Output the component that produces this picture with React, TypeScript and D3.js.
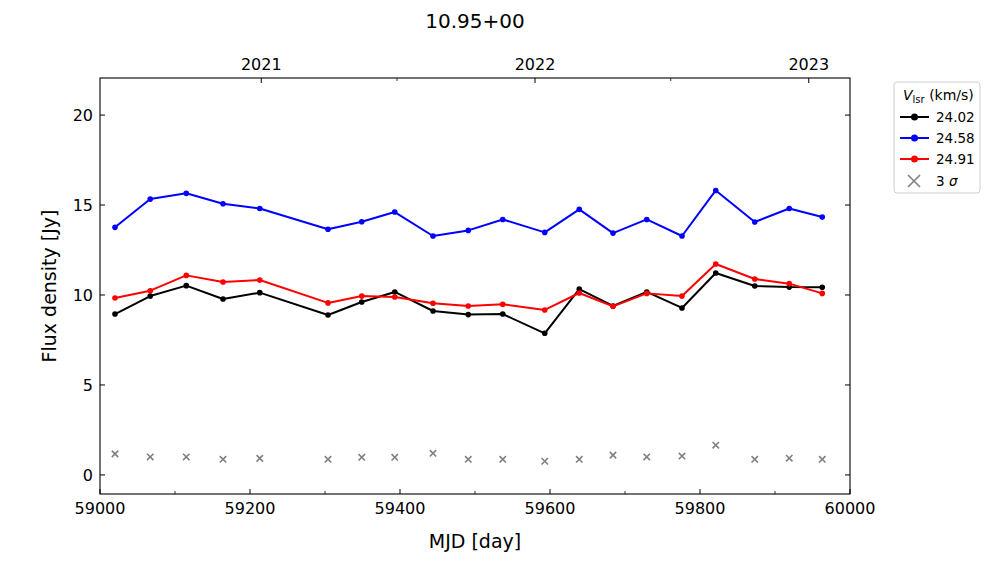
import React from "react";
import * as d3 from "d3";

const mjd = [59020, 59067, 59115, 59164, 59213, 59304, 59349, 59393, 59444, 59491, 59537, 59593, 59639, 59684, 59729, 59776, 59821, 59873, 59919, 59963];
const v2402 = [8.94, 9.94, 10.52, 9.78, 10.13, 8.89, 9.61, 10.17, 9.11, 8.91, 8.94, 7.87, 10.33, 9.39, 10.17, 9.28, 11.22, 10.5, 10.44, 10.43];
const v2458 = [13.76, 15.33, 15.65, 15.07, 14.81, 13.65, 14.07, 14.61, 13.28, 13.59, 14.2, 13.48, 14.76, 13.44, 14.2, 13.28, 15.81, 14.06, 14.81, 14.33];
const v2491 = [9.83, 10.24, 11.09, 10.72, 10.83, 9.56, 9.94, 9.89, 9.54, 9.39, 9.48, 9.17, 10.11, 9.37, 10.09, 9.94, 11.72, 10.89, 10.63, 10.09];
const sigma3 = [1.17, 1.0, 1.0, 0.87, 0.92, 0.87, 0.98, 0.98, 1.2, 0.87, 0.87, 0.76, 0.87, 1.1, 1.0, 1.05, 1.65, 0.87, 0.93, 0.87];

const seriesNames = ["24.02", "24.58", "24.91"];
const seriesColors = ["#000000", "#0000ff", "#ff0000"];
const seriesValues = [v2402, v2458, v2491];

const xTicks = [59000, 59200, 59400, 59600, 59800, 60000];
const xMinor = [59100, 59300, 59500, 59700, 59900];
const yTicks = [0, 5, 10, 15, 20];
const yearTicks = [59215, 59580, 59945];
const yearLabels = ["2021", "2022", "2023"];
const midYearTicks = [59396, 59761];

const W = 1000, H = 562;
const L = 100, R = 850, T = 78, B = 494;
const FONT = "DejaVu Sans, sans-serif";

export default function App() {
  const x = d3.scaleLinear().domain([59000, 60000]).range([L, R]);
  const y = d3.scaleLinear().domain([-1.06, 22.06]).range([B, T]);
  const line = d3.line<number>().x((_, i) => x(mjd[i])).y((d) => y(d));

  return (
    <svg width={W} height={H} style={{ position: "absolute", left: 0, top: 0, background: "#fff" }} fontFamily={FONT}>
      <rect x={0} y={0} width={W} height={H} fill="#fff" />
      <text x={(L + R) / 2} y={28} textAnchor="middle" fontSize={20}>10.95+00</text>

      {/* series */}
      {seriesValues.map((vals, k) => (
        <g key={k}>
          <path d={line(vals) || ""} fill="none" stroke={seriesColors[k]} strokeWidth={2} strokeLinejoin="round" />
          {vals.map((v, i) => (
            <circle key={i} cx={x(mjd[i])} cy={y(v)} r={2.8} fill={seriesColors[k]} />
          ))}
        </g>
      ))}
      {sigma3.map((v, i) => {
        const cx = x(mjd[i]), cy = y(v), s = 3.2;
        return (
          <path key={i} d={`M${cx - s},${cy - s}L${cx + s},${cy + s}M${cx - s},${cy + s}L${cx + s},${cy - s}`} stroke="#808080" strokeWidth={1.6} />
        );
      })}

      {/* frame */}
      <rect x={L} y={T} width={R - L} height={B - T} fill="none" stroke="#000" strokeWidth={1.1} />

      {/* bottom ticks */}
      {xTicks.map((t) => (
        <g key={t}>
          <line x1={x(t)} x2={x(t)} y1={B} y2={B - 5} stroke="#000" strokeWidth={1} />
          <text x={x(t)} y={514} textAnchor="middle" fontSize={16}>{t}</text>
        </g>
      ))}
      {xMinor.map((t) => (
        <line key={t} x1={x(t)} x2={x(t)} y1={B} y2={B - 3} stroke="#000" strokeWidth={0.8} />
      ))}
      {/* top ticks */}
      {yearTicks.map((t, i) => (
        <g key={t}>
          <line x1={x(t)} x2={x(t)} y1={T} y2={T + 5} stroke="#000" strokeWidth={1} />
          <text x={x(t)} y={70} textAnchor="middle" fontSize={16}>{yearLabels[i]}</text>
        </g>
      ))}
      {midYearTicks.map((t) => (
        <line key={t} x1={x(t)} x2={x(t)} y1={T} y2={T + 3} stroke="#000" strokeWidth={0.8} />
      ))}
      {/* y ticks */}
      {yTicks.map((t) => (
        <g key={t}>
          <line x1={L} x2={L + 5} y1={y(t)} y2={y(t)} stroke="#000" strokeWidth={1} />
          <line x1={R} x2={R - 5} y1={y(t)} y2={y(t)} stroke="#000" strokeWidth={1} />
          <text x={93} y={y(t)} dy="0.36em" textAnchor="end" fontSize={16}>{t}</text>
        </g>
      ))}

      <text x={(L + R) / 2} y={548} textAnchor="middle" fontSize={19}>MJD [day]</text>
      <text transform={`translate(56,${(T + B) / 2}) rotate(-90)`} textAnchor="middle" fontSize={19}>Flux density [Jy]</text>

      {/* legend */}
      <g>
        <rect x={894} y={82} width={86} height={111} rx={3} fill="#fff" fillOpacity={0.8} stroke="#cccccc" strokeWidth={1} />
        <text x={903} y={100} fontSize={14}>
          <tspan fontStyle="italic">V</tspan>
          <tspan fontSize={10} dy={2.5}>lsr</tspan>
          <tspan dy={-2.5}> (km/s)</tspan>
        </text>
        {seriesNames.map((n, k) => {
          const ly = 117 + k * 21;
          return (
            <g key={n}>
              <line x1={900} x2={929} y1={ly} y2={ly} stroke={seriesColors[k]} strokeWidth={2} />
              <circle cx={914.5} cy={ly} r={3.5} fill={seriesColors[k]} />
              <text x={936} y={ly} dy="0.36em" fontSize={13.5}>{n}</text>
            </g>
          );
        })}
        <path d="M908,175L920,187M908,187L920,175" stroke="#808080" strokeWidth={1.6} />
        <text x={936} y={181} dy="0.36em" fontSize={13.5}>
          3 <tspan fontStyle="italic">σ</tspan>
        </text>
      </g>
    </svg>
  );
}
